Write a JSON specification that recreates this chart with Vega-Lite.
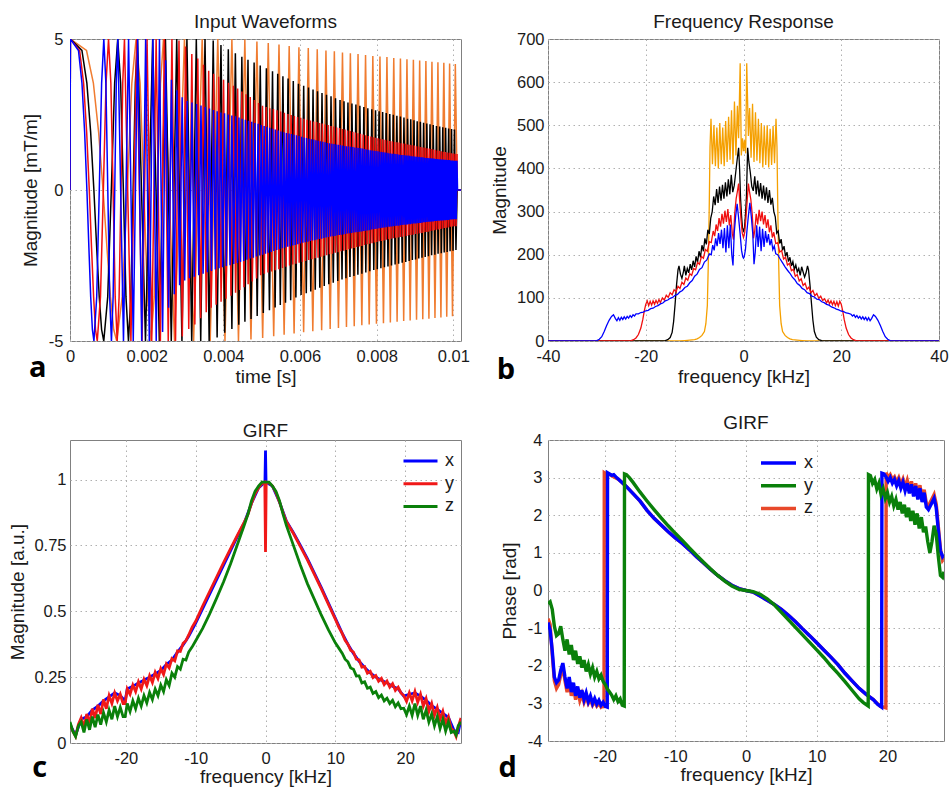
{
"$schema":"https://vega.github.io/schema/vega-lite/v6.json",
"padding":{"left":8,"top":12,"right":0,"bottom":0},
"background":"white",
"config":{
"font":"Liberation Sans",
"view":{"stroke":"#808080","strokeWidth":1},
"axis":{"labelFontSize":16.5,"labelColor":"#1a1a1a","titleFontSize":19,"titleFontWeight":"normal","titleColor":"#1a1a1a","domain":false,"ticks":false,"grid":true,"gridColor":"#b0b0b0","gridDash":[1.5,3.5],"labelFlush":false,"labelOverlap":false},
"title":{"fontSize":19,"fontWeight":"normal","color":"#1a1a1a","offset":-1,"frame":"group"}
},
"datasets":{
"aO":[{"t":0,"v":0},{"t":0.00001,"v":5},{"t":0.000431,"v":4.62},{"t":0.00061,"v":3.54},{"t":0.000747,"v":1.91},{"t":0.000862,"v":0},{"t":0.000964,"v":-1.91},{"t":0.001056,"v":-3.54},{"t":0.00114,"v":-4.62},{"t":0.001219,"v":-5},{"t":0.001363,"v":-3.54},{"t":0.001493,"v":0},{"t":0.001613,"v":3.54},{"t":0.001724,"v":5},{"t":0.001829,"v":3.54},{"t":0.001927,"v":0},{"t":0.002022,"v":-3.54},{"t":0.002111,"v":-5},{"t":0.002198,"v":-3.54},{"t":0.002281,"v":0},{"t":0.002361,"v":3.54},{"t":0.002438,"v":5},{"t":0.002586,"v":0},{"t":0.002726,"v":-5},{"t":0.002859,"v":0},{"t":0.002986,"v":5},{"t":0.003225,"v":-5},{"t":0.003448,"v":5},{"t":0.003657,"v":-5},{"t":0.003855,"v":5},{"t":0.004043,"v":-5},{"t":0.004223,"v":5},{"t":0.004395,"v":-5},{"t":0.004561,"v":4.98},{"t":0.004721,"v":-4.95},{"t":0.004876,"v":4.92},{"t":0.005026,"v":-4.9},{"t":0.005172,"v":4.87},{"t":0.005314,"v":-4.84},{"t":0.005452,"v":4.82},{"t":0.005586,"v":-4.79},{"t":0.005718,"v":4.77},{"t":0.005846,"v":-4.75},{"t":0.005972,"v":4.73},{"t":0.006095,"v":-4.71},{"t":0.006216,"v":4.7},{"t":0.006334,"v":-4.68},{"t":0.00645,"v":4.66},{"t":0.006565,"v":-4.64},{"t":0.006677,"v":4.62},{"t":0.006787,"v":-4.6},{"t":0.006896,"v":4.59},{"t":0.007003,"v":-4.57},{"t":0.007108,"v":4.55},{"t":0.007212,"v":-4.54},{"t":0.007314,"v":4.53},{"t":0.007415,"v":-4.51},{"t":0.007514,"v":4.5},{"t":0.007613,"v":-4.48},{"t":0.00771,"v":4.47},{"t":0.007805,"v":-4.45},{"t":0.0079,"v":4.44},{"t":0.007994,"v":-4.43},{"t":0.008086,"v":4.42},{"t":0.008177,"v":-4.41},{"t":0.008268,"v":4.4},{"t":0.008357,"v":-4.39},{"t":0.008446,"v":4.37},{"t":0.008533,"v":-4.36},{"t":0.00862,"v":4.35},{"t":0.008705,"v":-4.34},{"t":0.00879,"v":4.33},{"t":0.008874,"v":-4.32},{"t":0.008958,"v":4.31},{"t":0.00904,"v":-4.3},{"t":0.009122,"v":4.29},{"t":0.009203,"v":-4.28},{"t":0.009284,"v":4.27},{"t":0.009363,"v":-4.26},{"t":0.009442,"v":4.25},{"t":0.009521,"v":-4.24},{"t":0.009598,"v":4.23},{"t":0.009676,"v":-4.22},{"t":0.009752,"v":4.21},{"t":0.009828,"v":-4.2},{"t":0.009903,"v":4.19},{"t":0.009978,"v":-4.18},{"t":0.010052,"v":4.17},{"t":0.0101,"v":0},{"t":0.0102,"v":0}],
"aK":[{"t":0,"v":0},{"t":0.00001,"v":5},{"t":0.000311,"v":4.62},{"t":0.00044,"v":3.54},{"t":0.000539,"v":1.91},{"t":0.000623,"v":0},{"t":0.000696,"v":-1.91},{"t":0.000763,"v":-3.54},{"t":0.000824,"v":-4.62},{"t":0.000881,"v":-5},{"t":0.000984,"v":-3.54},{"t":0.001078,"v":0},{"t":0.001165,"v":3.54},{"t":0.001245,"v":5},{"t":0.001321,"v":3.54},{"t":0.001392,"v":0},{"t":0.00146,"v":-3.54},{"t":0.001525,"v":-5},{"t":0.001587,"v":-3.54},{"t":0.001647,"v":0},{"t":0.001705,"v":3.54},{"t":0.001761,"v":5},{"t":0.001969,"v":-5},{"t":0.002157,"v":5},{"t":0.00233,"v":-5},{"t":0.00249,"v":5},{"t":0.002642,"v":-5},{"t":0.002784,"v":5},{"t":0.00292,"v":-5},{"t":0.00305,"v":5},{"t":0.003175,"v":-5},{"t":0.003295,"v":5},{"t":0.00341,"v":-5},{"t":0.003522,"v":5},{"t":0.00363,"v":-5},{"t":0.003736,"v":4.95},{"t":0.003838,"v":-4.88},{"t":0.003938,"v":4.8},{"t":0.004035,"v":-4.73},{"t":0.00413,"v":4.66},{"t":0.004223,"v":-4.6},{"t":0.004314,"v":4.53},{"t":0.004403,"v":-4.46},{"t":0.004483,"v":4.41},{"t":0.004563,"v":-4.36},{"t":0.004643,"v":4.31},{"t":0.004723,"v":-4.27},{"t":0.004803,"v":4.22},{"t":0.004883,"v":-4.17},{"t":0.004963,"v":4.12},{"t":0.005043,"v":-4.07},{"t":0.005123,"v":4.03},{"t":0.005203,"v":-3.98},{"t":0.005283,"v":3.93},{"t":0.005351,"v":-3.89},{"t":0.005419,"v":3.85},{"t":0.005486,"v":-3.81},{"t":0.005554,"v":3.77},{"t":0.005622,"v":-3.73},{"t":0.005689,"v":3.69},{"t":0.005757,"v":-3.65},{"t":0.005825,"v":3.61},{"t":0.005893,"v":-3.56},{"t":0.00596,"v":3.52},{"t":0.006028,"v":-3.48},{"t":0.006096,"v":3.45},{"t":0.006164,"v":-3.42},{"t":0.006222,"v":3.39},{"t":0.006281,"v":-3.36},{"t":0.00634,"v":3.33},{"t":0.006398,"v":-3.3},{"t":0.006457,"v":3.27},{"t":0.006516,"v":-3.24},{"t":0.006574,"v":3.21},{"t":0.006633,"v":-3.18},{"t":0.006692,"v":3.15},{"t":0.006751,"v":-3.12},{"t":0.006809,"v":3.1},{"t":0.006868,"v":-3.07},{"t":0.006927,"v":3.04},{"t":0.006985,"v":-3.01},{"t":0.007044,"v":2.98},{"t":0.007096,"v":-2.96},{"t":0.007148,"v":2.94},{"t":0.007199,"v":-2.92},{"t":0.007251,"v":2.9},{"t":0.007303,"v":-2.88},{"t":0.007355,"v":2.86},{"t":0.007407,"v":-2.85},{"t":0.007458,"v":2.83},{"t":0.00751,"v":-2.81},{"t":0.007562,"v":2.79},{"t":0.007614,"v":-2.77},{"t":0.007666,"v":2.75},{"t":0.007717,"v":-2.73},{"t":0.007769,"v":2.71},{"t":0.007821,"v":-2.69},{"t":0.007873,"v":2.67},{"t":0.007925,"v":-2.65},{"t":0.007971,"v":2.64},{"t":0.008017,"v":-2.62},{"t":0.008064,"v":2.61},{"t":0.00811,"v":-2.59},{"t":0.008156,"v":2.58},{"t":0.008203,"v":-2.56},{"t":0.008249,"v":2.55},{"t":0.008295,"v":-2.53},{"t":0.008342,"v":2.52},{"t":0.008388,"v":-2.5},{"t":0.008434,"v":2.49},{"t":0.008481,"v":-2.47},{"t":0.008527,"v":2.46},{"t":0.008573,"v":-2.44},{"t":0.00862,"v":2.43},{"t":0.008666,"v":-2.41},{"t":0.008712,"v":2.4},{"t":0.008759,"v":-2.38},{"t":0.008805,"v":2.36},{"t":0.008847,"v":-2.35},{"t":0.008889,"v":2.34},{"t":0.008931,"v":-2.32},{"t":0.008973,"v":2.31},{"t":0.009015,"v":-2.3},{"t":0.009057,"v":2.28},{"t":0.009099,"v":-2.27},{"t":0.00914,"v":2.26},{"t":0.009182,"v":-2.24},{"t":0.009224,"v":2.23},{"t":0.009266,"v":-2.22},{"t":0.009308,"v":2.2},{"t":0.00935,"v":-2.19},{"t":0.009392,"v":2.18},{"t":0.009434,"v":-2.16},{"t":0.009476,"v":2.15},{"t":0.009518,"v":-2.14},{"t":0.00956,"v":2.12},{"t":0.009602,"v":-2.11},{"t":0.009644,"v":2.1},{"t":0.009686,"v":-2.09},{"t":0.009724,"v":2.08},{"t":0.009762,"v":-2.07},{"t":0.0098,"v":2.06},{"t":0.009839,"v":-2.05},{"t":0.009877,"v":2.04},{"t":0.009915,"v":-2.03},{"t":0.009954,"v":2.02},{"t":0.009992,"v":-2.01},{"t":0.01003,"v":2.0},{"t":0.010068,"v":-1.99},{"t":0.0101,"v":0},{"t":0.0102,"v":0}],
"aR":[{"t":0,"v":0},{"t":0.00001,"v":5},{"t":0.000251,"v":4.62},{"t":0.000355,"v":3.54},{"t":0.000435,"v":1.91},{"t":0.000503,"v":0},{"t":0.000562,"v":-1.91},{"t":0.000616,"v":-3.54},{"t":0.000665,"v":-4.62},{"t":0.000711,"v":-5},{"t":0.000795,"v":-3.54},{"t":0.00087,"v":0},{"t":0.00094,"v":3.54},{"t":0.001005,"v":5},{"t":0.001066,"v":3.54},{"t":0.001124,"v":0},{"t":0.001179,"v":-3.54},{"t":0.001231,"v":-5},{"t":0.001281,"v":-3.54},{"t":0.00133,"v":0},{"t":0.001376,"v":3.54},{"t":0.001421,"v":5},{"t":0.001589,"v":-5},{"t":0.001741,"v":5},{"t":0.00188,"v":-5},{"t":0.00201,"v":5},{"t":0.002132,"v":-5},{"t":0.002247,"v":5},{"t":0.002357,"v":-5},{"t":0.002462,"v":5},{"t":0.002563,"v":-5},{"t":0.002659,"v":5},{"t":0.002753,"v":-5},{"t":0.002843,"v":4.95},{"t":0.00293,"v":-4.85},{"t":0.003015,"v":4.75},{"t":0.003098,"v":-4.6},{"t":0.003178,"v":4.5},{"t":0.003257,"v":-4.45},{"t":0.003334,"v":4.35},{"t":0.003408,"v":-4.25},{"t":0.003482,"v":4.15},{"t":0.003554,"v":-4.05},{"t":0.003618,"v":3.95},{"t":0.003683,"v":-3.9},{"t":0.003747,"v":3.85},{"t":0.003812,"v":-3.8},{"t":0.003877,"v":3.75},{"t":0.003941,"v":-3.7},{"t":0.004006,"v":3.65},{"t":0.00407,"v":-3.6},{"t":0.004135,"v":3.55},{"t":0.0042,"v":-3.5},{"t":0.004264,"v":3.45},{"t":0.004319,"v":-3.4},{"t":0.004374,"v":3.36},{"t":0.004428,"v":-3.31},{"t":0.004483,"v":3.26},{"t":0.004538,"v":-3.22},{"t":0.004592,"v":3.17},{"t":0.004647,"v":-3.12},{"t":0.004702,"v":3.08},{"t":0.004756,"v":-3.03},{"t":0.004811,"v":2.98},{"t":0.004866,"v":-2.93},{"t":0.00492,"v":2.88},{"t":0.004975,"v":-2.82},{"t":0.005022,"v":2.79},{"t":0.00507,"v":-2.77},{"t":0.005117,"v":2.75},{"t":0.005165,"v":-2.73},{"t":0.005212,"v":2.71},{"t":0.005259,"v":-2.7},{"t":0.005307,"v":2.68},{"t":0.005354,"v":-2.66},{"t":0.005401,"v":2.64},{"t":0.005449,"v":-2.62},{"t":0.005496,"v":2.6},{"t":0.005544,"v":-2.58},{"t":0.005591,"v":2.56},{"t":0.005638,"v":-2.54},{"t":0.005686,"v":2.52},{"t":0.005727,"v":-2.5},{"t":0.005769,"v":2.48},{"t":0.005811,"v":-2.47},{"t":0.005853,"v":2.45},{"t":0.005895,"v":-2.44},{"t":0.005936,"v":2.42},{"t":0.005978,"v":-2.41},{"t":0.00602,"v":2.39},{"t":0.006062,"v":-2.38},{"t":0.006104,"v":2.36},{"t":0.006145,"v":-2.35},{"t":0.006187,"v":2.33},{"t":0.006229,"v":-2.32},{"t":0.006271,"v":2.3},{"t":0.006313,"v":-2.29},{"t":0.006354,"v":2.27},{"t":0.006396,"v":-2.26},{"t":0.006434,"v":2.25},{"t":0.006471,"v":-2.24},{"t":0.006509,"v":2.22},{"t":0.006546,"v":-2.21},{"t":0.006583,"v":2.2},{"t":0.006621,"v":-2.18},{"t":0.006658,"v":2.17},{"t":0.006696,"v":-2.16},{"t":0.006733,"v":2.15},{"t":0.00677,"v":-2.13},{"t":0.006808,"v":2.12},{"t":0.006845,"v":-2.11},{"t":0.006883,"v":2.1},{"t":0.00692,"v":-2.08},{"t":0.006957,"v":2.07},{"t":0.006995,"v":-2.06},{"t":0.007032,"v":2.05},{"t":0.00707,"v":-2.03},{"t":0.007107,"v":2.02},{"t":0.007141,"v":-2.01},{"t":0.007175,"v":2.0},{"t":0.007209,"v":-1.99},{"t":0.007242,"v":1.97},{"t":0.007276,"v":-1.96},{"t":0.00731,"v":1.95},{"t":0.007344,"v":-1.94},{"t":0.007378,"v":1.93},{"t":0.007412,"v":-1.92},{"t":0.007446,"v":1.9},{"t":0.007479,"v":-1.89},{"t":0.007513,"v":1.88},{"t":0.007547,"v":-1.87},{"t":0.007581,"v":1.86},{"t":0.007615,"v":-1.85},{"t":0.007649,"v":1.84},{"t":0.007682,"v":-1.82},{"t":0.007716,"v":1.81},{"t":0.00775,"v":-1.8},{"t":0.007784,"v":1.79},{"t":0.007818,"v":-1.78},{"t":0.007849,"v":1.77},{"t":0.00788,"v":-1.76},{"t":0.00791,"v":1.75},{"t":0.007941,"v":-1.74},{"t":0.007972,"v":1.73},{"t":0.008003,"v":-1.72},{"t":0.008034,"v":1.71},{"t":0.008065,"v":-1.7},{"t":0.008096,"v":1.7},{"t":0.008127,"v":-1.69},{"t":0.008158,"v":1.68},{"t":0.008189,"v":-1.67},{"t":0.008219,"v":1.66},{"t":0.00825,"v":-1.65},{"t":0.008281,"v":1.64},{"t":0.008312,"v":-1.63},{"t":0.008343,"v":1.62},{"t":0.008374,"v":-1.61},{"t":0.008405,"v":1.61},{"t":0.008436,"v":-1.6},{"t":0.008467,"v":1.59},{"t":0.008498,"v":-1.58},{"t":0.008528,"v":1.58},{"t":0.0085568,"v":-1.57},{"t":0.0085852,"v":1.57},{"t":0.0086137,"v":-1.56},{"t":0.0086421,"v":1.55},{"t":0.0086705,"v":-1.55},{"t":0.008699,"v":1.54},{"t":0.0087274,"v":-1.53},{"t":0.0087558,"v":1.53},{"t":0.0087843,"v":-1.52},{"t":0.0088127,"v":1.51},{"t":0.0088411,"v":-1.5},{"t":0.0088696,"v":1.5},{"t":0.008898,"v":-1.49},{"t":0.0089264,"v":1.48},{"t":0.0089549,"v":-1.48},{"t":0.0089833,"v":1.47},{"t":0.0090117,"v":-1.46},{"t":0.0090402,"v":1.45},{"t":0.0090686,"v":-1.45},{"t":0.009097,"v":1.44},{"t":0.0091255,"v":-1.43},{"t":0.0091539,"v":1.42},{"t":0.0091823,"v":-1.42},{"t":0.0092108,"v":1.41},{"t":0.0092391,"v":-1.4},{"t":0.0092654,"v":1.4},{"t":0.0092917,"v":-1.39},{"t":0.0093181,"v":1.38},{"t":0.0093444,"v":-1.38},{"t":0.0093707,"v":1.37},{"t":0.009397,"v":-1.36},{"t":0.0094233,"v":1.36},{"t":0.0094497,"v":-1.35},{"t":0.009476,"v":1.34},{"t":0.0095023,"v":-1.33},{"t":0.0095286,"v":1.33},{"t":0.009555,"v":-1.32},{"t":0.0095813,"v":1.31},{"t":0.0096076,"v":-1.31},{"t":0.0096339,"v":1.3},{"t":0.0096602,"v":-1.29},{"t":0.0096866,"v":1.28},{"t":0.0097129,"v":-1.28},{"t":0.0097392,"v":1.27},{"t":0.0097655,"v":-1.26},{"t":0.0097918,"v":1.26},{"t":0.0098182,"v":-1.25},{"t":0.0098445,"v":1.24},{"t":0.0098708,"v":-1.24},{"t":0.0098971,"v":1.23},{"t":0.0099234,"v":-1.22},{"t":0.0099498,"v":1.22},{"t":0.0099743,"v":-1.21},{"t":0.0099988,"v":1.21},{"t":0.0100233,"v":-1.2},{"t":0.0100478,"v":1.2},{"t":0.0100723,"v":-1.2},{"t":0.0100968,"v":1.19},{"t":0.0101,"v":0},{"t":0.0102,"v":0}],
"aB":[{"t":0,"v":0},{"t":0.00001,"v":5},{"t":0.000221,"v":4.62},{"t":0.000312,"v":3.54},{"t":0.000382,"v":1.91},{"t":0.000441,"v":0},{"t":0.000493,"v":-1.91},{"t":0.00054,"v":-3.54},{"t":0.000584,"v":-4.62},{"t":0.000624,"v":-5},{"t":0.000697,"v":-3.54},{"t":0.000764,"v":0},{"t":0.000825,"v":3.54},{"t":0.000882,"v":5},{"t":0.000936,"v":3.54},{"t":0.000986,"v":0},{"t":0.001035,"v":-3.54},{"t":0.001081,"v":-5},{"t":0.001125,"v":-3.54},{"t":0.001167,"v":0},{"t":0.001208,"v":3.54},{"t":0.001248,"v":5},{"t":0.001395,"v":-5},{"t":0.001528,"v":5},{"t":0.00165,"v":-5},{"t":0.001764,"v":5},{"t":0.001871,"v":-5},{"t":0.001973,"v":5},{"t":0.002069,"v":-5},{"t":0.002161,"v":5},{"t":0.002249,"v":-5},{"t":0.002334,"v":5},{"t":0.002416,"v":-4.7},{"t":0.002495,"v":4.3},{"t":0.002572,"v":-3.9},{"t":0.002647,"v":3.65},{"t":0.002719,"v":-3.45},{"t":0.00279,"v":3.3},{"t":0.002859,"v":-3.15},{"t":0.002926,"v":3.07},{"t":0.002992,"v":-3.0},{"t":0.003056,"v":2.95},{"t":0.003119,"v":-2.92},{"t":0.003181,"v":2.9},{"t":0.003241,"v":-2.87},{"t":0.003301,"v":2.85},{"t":0.003359,"v":-2.82},{"t":0.003417,"v":2.8},{"t":0.003473,"v":-2.77},{"t":0.003529,"v":2.75},{"t":0.003584,"v":-2.72},{"t":0.003637,"v":2.7},{"t":0.003691,"v":-2.68},{"t":0.003743,"v":2.65},{"t":0.003791,"v":-2.63},{"t":0.003839,"v":2.61},{"t":0.003887,"v":-2.59},{"t":0.003935,"v":2.57},{"t":0.003983,"v":-2.56},{"t":0.004031,"v":2.54},{"t":0.004079,"v":-2.52},{"t":0.004127,"v":2.5},{"t":0.004175,"v":-2.49},{"t":0.004223,"v":2.47},{"t":0.004271,"v":-2.45},{"t":0.004319,"v":2.44},{"t":0.004367,"v":-2.42},{"t":0.004408,"v":2.4},{"t":0.00445,"v":-2.38},{"t":0.004491,"v":2.36},{"t":0.004533,"v":-2.35},{"t":0.004575,"v":2.33},{"t":0.004616,"v":-2.31},{"t":0.004658,"v":2.29},{"t":0.004699,"v":-2.27},{"t":0.004741,"v":2.26},{"t":0.004783,"v":-2.24},{"t":0.004824,"v":2.22},{"t":0.004866,"v":-2.2},{"t":0.004907,"v":2.19},{"t":0.004949,"v":-2.17},{"t":0.00499,"v":2.15},{"t":0.005027,"v":-2.14},{"t":0.005064,"v":2.12},{"t":0.005101,"v":-2.11},{"t":0.005137,"v":2.09},{"t":0.005174,"v":-2.08},{"t":0.005211,"v":2.06},{"t":0.005247,"v":-2.05},{"t":0.005284,"v":2.03},{"t":0.005321,"v":-2.02},{"t":0.005357,"v":2.0},{"t":0.005394,"v":-1.99},{"t":0.005431,"v":1.97},{"t":0.005468,"v":-1.96},{"t":0.005504,"v":1.94},{"t":0.005541,"v":-1.93},{"t":0.005578,"v":1.91},{"t":0.005614,"v":-1.9},{"t":0.005647,"v":1.89},{"t":0.00568,"v":-1.88},{"t":0.005713,"v":1.87},{"t":0.005746,"v":-1.86},{"t":0.005778,"v":1.85},{"t":0.005811,"v":-1.84},{"t":0.005844,"v":1.83},{"t":0.005877,"v":-1.82},{"t":0.00591,"v":1.81},{"t":0.005943,"v":-1.8},{"t":0.005975,"v":1.79},{"t":0.006008,"v":-1.77},{"t":0.006041,"v":1.76},{"t":0.006074,"v":-1.75},{"t":0.006107,"v":1.74},{"t":0.00614,"v":-1.73},{"t":0.006172,"v":1.72},{"t":0.006205,"v":-1.71},{"t":0.006238,"v":1.7},{"t":0.006268,"v":-1.69},{"t":0.006297,"v":1.68},{"t":0.006327,"v":-1.67},{"t":0.006357,"v":1.67},{"t":0.006387,"v":-1.66},{"t":0.006416,"v":1.65},{"t":0.006446,"v":-1.64},{"t":0.006476,"v":1.63},{"t":0.006505,"v":-1.62},{"t":0.006535,"v":1.61},{"t":0.006565,"v":-1.61},{"t":0.006594,"v":1.6},{"t":0.006624,"v":-1.59},{"t":0.006654,"v":1.58},{"t":0.006684,"v":-1.57},{"t":0.006713,"v":1.56},{"t":0.006743,"v":-1.56},{"t":0.006773,"v":1.55},{"t":0.006802,"v":-1.54},{"t":0.006832,"v":1.53},{"t":0.006862,"v":-1.53},{"t":0.006889,"v":1.52},{"t":0.006916,"v":-1.52},{"t":0.006943,"v":1.51},{"t":0.00697,"v":-1.5},{"t":0.006997,"v":1.5},{"t":0.007025,"v":-1.49},{"t":0.007052,"v":1.49},{"t":0.007079,"v":-1.48},{"t":0.007106,"v":1.47},{"t":0.007133,"v":-1.47},{"t":0.00716,"v":1.46},{"t":0.007187,"v":-1.46},{"t":0.007214,"v":1.45},{"t":0.007242,"v":-1.44},{"t":0.007269,"v":1.44},{"t":0.007296,"v":-1.43},{"t":0.007323,"v":1.43},{"t":0.00735,"v":-1.42},{"t":0.007377,"v":1.42},{"t":0.007404,"v":-1.41},{"t":0.007431,"v":1.41},{"t":0.007458,"v":-1.4},{"t":0.007486,"v":1.4},{"t":0.0075105,"v":-1.39},{"t":0.0075355,"v":1.39},{"t":0.0075604,"v":-1.38},{"t":0.0075854,"v":1.38},{"t":0.0076103,"v":-1.37},{"t":0.0076353,"v":1.37},{"t":0.0076602,"v":-1.36},{"t":0.0076852,"v":1.36},{"t":0.0077101,"v":-1.35},{"t":0.0077351,"v":1.34},{"t":0.00776,"v":-1.34},{"t":0.007785,"v":1.33},{"t":0.0078099,"v":-1.33},{"t":0.0078349,"v":1.32},{"t":0.0078598,"v":-1.31},{"t":0.0078848,"v":1.31},{"t":0.0079097,"v":-1.3},{"t":0.0079347,"v":1.3},{"t":0.0079596,"v":-1.29},{"t":0.0079846,"v":1.29},{"t":0.0080095,"v":-1.28},{"t":0.0080345,"v":1.28},{"t":0.0080594,"v":-1.27},{"t":0.0080844,"v":1.27},{"t":0.0081094,"v":-1.26},{"t":0.0081325,"v":1.26},{"t":0.0081556,"v":-1.25},{"t":0.0081787,"v":1.25},{"t":0.0082018,"v":-1.24},{"t":0.0082249,"v":1.24},{"t":0.008248,"v":-1.23},{"t":0.0082711,"v":1.23},{"t":0.0082942,"v":-1.22},{"t":0.0083173,"v":1.22},{"t":0.0083404,"v":-1.22},{"t":0.0083635,"v":1.21},{"t":0.0083866,"v":-1.21},{"t":0.0084097,"v":1.2},{"t":0.0084328,"v":-1.2},{"t":0.0084559,"v":1.2},{"t":0.008479,"v":-1.19},{"t":0.0085021,"v":1.19},{"t":0.0085252,"v":-1.18},{"t":0.0085483,"v":1.18},{"t":0.0085714,"v":-1.18},{"t":0.0085945,"v":1.17},{"t":0.0086176,"v":-1.17},{"t":0.0086407,"v":1.16},{"t":0.0086638,"v":-1.16},{"t":0.0086869,"v":1.16},{"t":0.00871,"v":-1.15},{"t":0.0087332,"v":1.15},{"t":0.0087547,"v":-1.15},{"t":0.0087762,"v":1.14},{"t":0.0087977,"v":-1.14},{"t":0.0088192,"v":1.14},{"t":0.0088407,"v":-1.13},{"t":0.0088622,"v":1.13},{"t":0.0088837,"v":-1.13},{"t":0.0089052,"v":1.12},{"t":0.0089267,"v":-1.12},{"t":0.0089482,"v":1.12},{"t":0.0089697,"v":-1.11},{"t":0.0089912,"v":1.11},{"t":0.0090127,"v":-1.11},{"t":0.0090342,"v":1.1},{"t":0.0090557,"v":-1.1},{"t":0.0090772,"v":1.1},{"t":0.0090987,"v":-1.09},{"t":0.0091202,"v":1.09},{"t":0.0091417,"v":-1.09},{"t":0.0091632,"v":1.08},{"t":0.0091847,"v":-1.08},{"t":0.0092062,"v":1.08},{"t":0.0092277,"v":-1.07},{"t":0.0092492,"v":1.07},{"t":0.0092707,"v":-1.07},{"t":0.0092922,"v":1.06},{"t":0.0093137,"v":-1.06},{"t":0.0093352,"v":1.06},{"t":0.009357,"v":-1.05},{"t":0.0093771,"v":1.05},{"t":0.0093972,"v":-1.05},{"t":0.0094173,"v":1.05},{"t":0.0094374,"v":-1.04},{"t":0.0094575,"v":1.04},{"t":0.0094776,"v":-1.04},{"t":0.0094977,"v":1.04},{"t":0.0095178,"v":-1.03},{"t":0.0095379,"v":1.03},{"t":0.009558,"v":-1.03},{"t":0.0095781,"v":1.03},{"t":0.0095982,"v":-1.02},{"t":0.0096183,"v":1.02},{"t":0.0096384,"v":-1.02},{"t":0.0096585,"v":1.02},{"t":0.0096786,"v":-1.01},{"t":0.0096987,"v":1.01},{"t":0.0097188,"v":-1.01},{"t":0.0097389,"v":1.01},{"t":0.009759,"v":-1.0},{"t":0.0097791,"v":1.0},{"t":0.0097992,"v":-1.0},{"t":0.0098193,"v":1.0},{"t":0.0098394,"v":-0.99},{"t":0.0098595,"v":0.99},{"t":0.0098796,"v":-0.99},{"t":0.0098997,"v":0.99},{"t":0.0099198,"v":-0.98},{"t":0.0099399,"v":0.98},{"t":0.00996,"v":-0.98},{"t":0.0099808,"v":0.98},{"t":0.0099997,"v":-0.97},{"t":0.0100186,"v":0.97},{"t":0.0100375,"v":-0.97},{"t":0.0100564,"v":0.97},{"t":0.0100753,"v":-0.97},{"t":0.0100942,"v":0.97},{"t":0.01011,"v":0},{"t":0.0102,"v":0}],
"bO":[{"f":-40,"v":0},{"f":-13,"v":0},{"f":-12,"v":1},{"f":-11,"v":2},{"f":-10,"v":3},{"f":-9.5,"v":5},{"f":-9,"v":8},{"f":-8.5,"v":13},{"f":-8,"v":22},{"f":-7.7,"v":40},{"f":-7.4,"v":82},{"f":-7.2,"v":180},{"f":-7,"v":320},{"f":-6.85,"v":450},{"f":-6.65,"v":515},{"f":-6.35,"v":410},{"f":-6.05,"v":500},{"f":-5.75,"v":405},{"f":-5.45,"v":495},{"f":-5.15,"v":400},{"f":-4.85,"v":505},{"f":-4.55,"v":410},{"f":-4.25,"v":495},{"f":-3.95,"v":405},{"f":-3.65,"v":510},{"f":-3.35,"v":415},{"f":-3.05,"v":520},{"f":-2.75,"v":420},{"f":-2.45,"v":535},{"f":-2.15,"v":410},{"f":-1.85,"v":555},{"f":-1.55,"v":430},{"f":-1.25,"v":545},{"f":-1,"v":470},{"f":-0.68,"v":644},{"f":-0.45,"v":430},{"f":-0.2,"v":470},{"f":0,"v":440},{"f":0.2,"v":465},{"f":0.45,"v":435},{"f":0.66,"v":644},{"f":1,"v":475},{"f":1.25,"v":540},{"f":1.55,"v":425},{"f":1.85,"v":550},{"f":2.15,"v":415},{"f":2.45,"v":530},{"f":2.75,"v":418},{"f":3.05,"v":515},{"f":3.35,"v":412},{"f":3.65,"v":505},{"f":3.95,"v":402},{"f":4.25,"v":498},{"f":4.55,"v":408},{"f":4.85,"v":500},{"f":5.15,"v":402},{"f":5.45,"v":492},{"f":5.75,"v":408},{"f":6.05,"v":498},{"f":6.35,"v":412},{"f":6.65,"v":515},{"f":6.85,"v":450},{"f":7,"v":320},{"f":7.2,"v":180},{"f":7.4,"v":82},{"f":7.7,"v":40},{"f":8,"v":22},{"f":8.5,"v":13},{"f":9,"v":8},{"f":9.5,"v":5},{"f":10,"v":3},{"f":11,"v":2},{"f":12,"v":1},{"f":13,"v":0},{"f":40,"v":0}],
"bK":[{"f":-40,"v":0},{"f":-16.5,"v":0},{"f":-16,"v":1},{"f":-15.5,"v":3},{"f":-15,"v":8},{"f":-14.6,"v":20},{"f":-14.3,"v":45},{"f":-14,"v":85},{"f":-13.7,"v":130},{"f":-13.4,"v":165},{"f":-13.2,"v":174},{"f":-12.9,"v":155},{"f":-12.6,"v":145},{"f":-12.3,"v":160},{"f":-12.1,"v":174},{"f":-11.8,"v":152},{"f":-11.5,"v":168},{"f":-11.2,"v":158},{"f":-10.9,"v":178},{"f":-10.6,"v":165},{"f":-10.3,"v":186},{"f":-10,"v":172},{"f":-9.7,"v":196},{"f":-9.4,"v":182},{"f":-9.1,"v":208},{"f":-8.8,"v":194},{"f":-8.5,"v":222},{"f":-8.2,"v":208},{"f":-7.9,"v":238},{"f":-7.6,"v":224},{"f":-7.3,"v":258},{"f":-7,"v":248},{"f":-6.7,"v":285},{"f":-6.4,"v":300},{"f":-6.1,"v":335},{"f":-5.8,"v":315},{"f":-5.5,"v":352},{"f":-5.2,"v":320},{"f":-4.9,"v":358},{"f":-4.6,"v":325},{"f":-4.3,"v":362},{"f":-4,"v":330},{"f":-3.7,"v":368},{"f":-3.4,"v":335},{"f":-3.1,"v":375},{"f":-2.8,"v":340},{"f":-2.5,"v":385},{"f":-2.2,"v":345},{"f":-1.9,"v":360},{"f":-1.6,"v":390},{"f":-1.3,"v":420},{"f":-1,"v":448},{"f":-0.8,"v":400},{"f":-0.6,"v":330},{"f":-0.4,"v":290},{"f":-0.2,"v":262},{"f":0,"v":255},{"f":0.2,"v":262},{"f":0.4,"v":292},{"f":0.6,"v":335},{"f":0.85,"v":448},{"f":1.1,"v":415},{"f":1.4,"v":390},{"f":1.7,"v":358},{"f":2,"v":348},{"f":2.3,"v":382},{"f":2.6,"v":340},{"f":2.9,"v":372},{"f":3.2,"v":335},{"f":3.5,"v":366},{"f":3.8,"v":330},{"f":4.1,"v":360},{"f":4.4,"v":326},{"f":4.7,"v":356},{"f":5,"v":320},{"f":5.3,"v":350},{"f":5.6,"v":316},{"f":5.9,"v":332},{"f":6.2,"v":300},{"f":6.5,"v":288},{"f":6.8,"v":250},{"f":7.1,"v":255},{"f":7.4,"v":226},{"f":7.7,"v":236},{"f":8,"v":210},{"f":8.3,"v":220},{"f":8.6,"v":196},{"f":8.9,"v":206},{"f":9.2,"v":184},{"f":9.5,"v":194},{"f":9.8,"v":174},{"f":10.1,"v":184},{"f":10.4,"v":166},{"f":10.7,"v":176},{"f":11,"v":160},{"f":11.3,"v":168},{"f":11.6,"v":152},{"f":11.9,"v":172},{"f":12.2,"v":160},{"f":12.5,"v":148},{"f":12.8,"v":158},{"f":13.1,"v":174},{"f":13.3,"v":165},{"f":13.6,"v":130},{"f":13.9,"v":88},{"f":14.2,"v":48},{"f":14.5,"v":22},{"f":14.9,"v":9},{"f":15.4,"v":3},{"f":16,"v":1},{"f":16.5,"v":0},{"f":40,"v":0}],
"bR":[{"f":-40,"v":0},{"f":-24,"v":0},{"f":-23,"v":1},{"f":-22.5,"v":3},{"f":-22,"v":7},{"f":-21.5,"v":15},{"f":-21,"v":30},{"f":-20.6,"v":50},{"f":-20.3,"v":70},{"f":-20,"v":85},{"f":-19.7,"v":93},{"f":-19.4,"v":82},{"f":-19.1,"v":92},{"f":-18.8,"v":83},{"f":-18.5,"v":93},{"f":-18.2,"v":85},{"f":-17.9,"v":94},{"f":-17.6,"v":87},{"f":-17.3,"v":96},{"f":-17,"v":89},{"f":-16.6,"v":100},{"f":-16.2,"v":95},{"f":-15.8,"v":106},{"f":-15.4,"v":101},{"f":-15,"v":112},{"f":-14.6,"v":107},{"f":-14.2,"v":119},{"f":-13.8,"v":114},{"f":-13.4,"v":127},{"f":-13,"v":122},{"f":-12.6,"v":136},{"f":-12.2,"v":131},{"f":-11.8,"v":146},{"f":-11.4,"v":141},{"f":-11,"v":156},{"f":-10.6,"v":152},{"f":-10.2,"v":168},{"f":-9.8,"v":165},{"f":-9.4,"v":182},{"f":-9,"v":178},{"f":-8.6,"v":196},{"f":-8.2,"v":192},{"f":-7.8,"v":212},{"f":-7.4,"v":208},{"f":-7,"v":230},{"f":-6.6,"v":228},{"f":-6.2,"v":255},{"f":-5.9,"v":243},{"f":-5.6,"v":270},{"f":-5.3,"v":255},{"f":-5,"v":285},{"f":-4.7,"v":265},{"f":-4.4,"v":295},{"f":-4.1,"v":272},{"f":-3.8,"v":302},{"f":-3.5,"v":276},{"f":-3.2,"v":306},{"f":-2.9,"v":268},{"f":-2.6,"v":292},{"f":-2.3,"v":250},{"f":-2.05,"v":235},{"f":-1.8,"v":295},{"f":-1.5,"v":330},{"f":-1.2,"v":350},{"f":-1,"v":365},{"f":-0.75,"v":320},{"f":-0.5,"v":280},{"f":-0.25,"v":250},{"f":0,"v":240},{"f":0.25,"v":252},{"f":0.5,"v":285},{"f":0.75,"v":325},{"f":1,"v":365},{"f":1.2,"v":348},{"f":1.5,"v":328},{"f":1.8,"v":292},{"f":2.05,"v":238},{"f":2.3,"v":255},{"f":2.6,"v":295},{"f":2.9,"v":270},{"f":3.2,"v":304},{"f":3.5,"v":278},{"f":3.8,"v":300},{"f":4.1,"v":270},{"f":4.4,"v":292},{"f":4.7,"v":262},{"f":5,"v":282},{"f":5.3,"v":252},{"f":5.6,"v":268},{"f":5.9,"v":240},{"f":6.2,"v":252},{"f":6.6,"v":226},{"f":7,"v":228},{"f":7.4,"v":206},{"f":7.8,"v":210},{"f":8.2,"v":190},{"f":8.6,"v":194},{"f":9,"v":176},{"f":9.4,"v":180},{"f":9.8,"v":163},{"f":10.2,"v":166},{"f":10.6,"v":150},{"f":11,"v":154},{"f":11.4,"v":139},{"f":11.8,"v":144},{"f":12.2,"v":129},{"f":12.6,"v":134},{"f":13,"v":120},{"f":13.4,"v":125},{"f":13.8,"v":112},{"f":14.2,"v":117},{"f":14.6,"v":105},{"f":15,"v":110},{"f":15.4,"v":99},{"f":15.8,"v":104},{"f":16.2,"v":94},{"f":16.6,"v":98},{"f":17,"v":88},{"f":17.3,"v":95},{"f":17.6,"v":86},{"f":17.9,"v":93},{"f":18.2,"v":84},{"f":18.5,"v":92},{"f":18.8,"v":82},{"f":19.1,"v":91},{"f":19.4,"v":81},{"f":19.7,"v":92},{"f":20,"v":85},{"f":20.3,"v":70},{"f":20.6,"v":50},{"f":21,"v":30},{"f":21.5,"v":15},{"f":22,"v":7},{"f":22.5,"v":3},{"f":23,"v":1},{"f":24,"v":0},{"f":40,"v":0}],
"bB":[{"f":-40,"v":0},{"f":-31,"v":0},{"f":-30,"v":1},{"f":-29.5,"v":4},{"f":-29,"v":10},{"f":-28.5,"v":22},{"f":-28,"v":36},{"f":-27.5,"v":48},{"f":-27,"v":57},{"f":-26.6,"v":61},{"f":-26.2,"v":52},{"f":-25.9,"v":47},{"f":-25.6,"v":54},{"f":-25.3,"v":48},{"f":-25,"v":55},{"f":-24.7,"v":50},{"f":-24.4,"v":56},{"f":-24.1,"v":51},{"f":-23.8,"v":57},{"f":-23.5,"v":53},{"f":-23.2,"v":59},{"f":-22.9,"v":55},{"f":-22.6,"v":61},{"f":-22.3,"v":58},{"f":-22,"v":63},{"f":-21.5,"v":63},{"f":-21,"v":66},{"f":-20.5,"v":67},{"f":-20,"v":70},{"f":-19.5,"v":71},{"f":-19,"v":75},{"f":-18.5,"v":76},{"f":-18,"v":80},{"f":-17.5,"v":82},{"f":-17,"v":86},{"f":-16.5,"v":88},{"f":-16,"v":93},{"f":-15.5,"v":95},{"f":-15,"v":99},{"f":-14.5,"v":101},{"f":-14,"v":106},{"f":-13.5,"v":108},{"f":-13,"v":114},{"f":-12.5,"v":117},{"f":-12,"v":124},{"f":-11.5,"v":127},{"f":-11,"v":135},{"f":-10.5,"v":140},{"f":-10,"v":150},{"f":-9.5,"v":155},{"f":-9,"v":166},{"f":-8.5,"v":170},{"f":-8,"v":183},{"f":-7.5,"v":188},{"f":-7,"v":202},{"f":-6.6,"v":200},{"f":-6.3,"v":222},{"f":-6,"v":210},{"f":-5.7,"v":238},{"f":-5.4,"v":220},{"f":-5.1,"v":250},{"f":-4.8,"v":225},{"f":-4.5,"v":258},{"f":-4.2,"v":215},{"f":-3.9,"v":262},{"f":-3.6,"v":205},{"f":-3.3,"v":268},{"f":-3,"v":215},{"f":-2.7,"v":270},{"f":-2.4,"v":200},{"f":-2.15,"v":175},{"f":-1.9,"v":250},{"f":-1.6,"v":290},{"f":-1.3,"v":318},{"f":-1,"v":285},{"f":-0.7,"v":250},{"f":-0.4,"v":210},{"f":-0.15,"v":195},{"f":0,"v":192},{"f":0.15,"v":195},{"f":0.4,"v":212},{"f":0.7,"v":255},{"f":1,"v":290},{"f":1.3,"v":320},{"f":1.6,"v":288},{"f":1.9,"v":248},{"f":2.15,"v":178},{"f":2.4,"v":205},{"f":2.7,"v":268},{"f":3,"v":218},{"f":3.3,"v":265},{"f":3.6,"v":208},{"f":3.9,"v":260},{"f":4.2,"v":218},{"f":4.5,"v":255},{"f":4.8,"v":228},{"f":5.1,"v":248},{"f":5.4,"v":222},{"f":5.7,"v":236},{"f":6,"v":212},{"f":6.3,"v":220},{"f":6.6,"v":202},{"f":7,"v":200},{"f":7.5,"v":190},{"f":8,"v":181},{"f":8.5,"v":172},{"f":9,"v":164},{"f":9.5,"v":157},{"f":10,"v":148},{"f":10.5,"v":142},{"f":11,"v":133},{"f":11.5,"v":129},{"f":12,"v":122},{"f":12.5,"v":119},{"f":13,"v":112},{"f":13.5,"v":110},{"f":14,"v":104},{"f":14.5,"v":102},{"f":15,"v":97},{"f":15.5,"v":96},{"f":16,"v":91},{"f":16.5,"v":89},{"f":17,"v":85},{"f":17.5,"v":83},{"f":18,"v":79},{"f":18.5,"v":77},{"f":19,"v":74},{"f":19.5,"v":72},{"f":20,"v":69},{"f":20.5,"v":68},{"f":21,"v":65},{"f":21.5,"v":64},{"f":22,"v":62},{"f":22.3,"v":58},{"f":22.6,"v":61},{"f":22.9,"v":55},{"f":23.2,"v":59},{"f":23.5,"v":53},{"f":23.8,"v":57},{"f":24.1,"v":51},{"f":24.4,"v":56},{"f":24.7,"v":50},{"f":25,"v":55},{"f":25.3,"v":48},{"f":25.6,"v":54},{"f":25.9,"v":47},{"f":26.2,"v":52},{"f":26.6,"v":61},{"f":27,"v":57},{"f":27.5,"v":48},{"f":28,"v":36},{"f":28.5,"v":22},{"f":29,"v":10},{"f":29.5,"v":4},{"f":30,"v":1},{"f":31,"v":0},{"f":40,"v":0}],
"cG":[{"s":"x","f":-28,"v":0.07},{"s":"x","f":-27.2,"v":0.03},{"s":"x","f":-26.4,"v":0.09},{"s":"x","f":-25.6,"v":0.1},{"s":"x","f":-24.8,"v":0.125},{"s":"x","f":-24,"v":0.14},{"s":"x","f":-23.2,"v":0.16},{"s":"x","f":-22.4,"v":0.175},{"s":"x","f":-21.6,"v":0.19},{"s":"x","f":-20.8,"v":0.18},{"s":"x","f":-20.1,"v":0.16},{"s":"x","f":-19.8,"v":0.205},{"s":"x","f":-19,"v":0.215},{"s":"x","f":-18.2,"v":0.228},{"s":"x","f":-17.4,"v":0.238},{"s":"x","f":-16.6,"v":0.25},{"s":"x","f":-15.8,"v":0.262},{"s":"x","f":-15,"v":0.275},{"s":"x","f":-14.2,"v":0.298},{"s":"x","f":-13.4,"v":0.315},{"s":"x","f":-12.6,"v":0.345},{"s":"x","f":-11.8,"v":0.372},{"s":"x","f":-11,"v":0.405},{"s":"x","f":-10,"v":0.455},{"s":"x","f":-9,"v":0.51},{"s":"x","f":-8,"v":0.565},{"s":"x","f":-7,"v":0.62},{"s":"x","f":-6,"v":0.675},{"s":"x","f":-5,"v":0.73},{"s":"x","f":-4,"v":0.785},{"s":"x","f":-3,"v":0.838},{"s":"x","f":-2,"v":0.91},{"s":"x","f":-1,"v":0.968},{"s":"x","f":-0.08,"v":0.99},{"s":"x","f":0,"v":1.11},{"s":"x","f":0.08,"v":0.99},{"s":"x","f":1,"v":0.975},{"s":"x","f":2,"v":0.915},{"s":"x","f":3,"v":0.842},{"s":"x","f":4,"v":0.798},{"s":"x","f":5,"v":0.75},{"s":"x","f":6,"v":0.7},{"s":"x","f":7,"v":0.645},{"s":"x","f":8,"v":0.59},{"s":"x","f":9,"v":0.532},{"s":"x","f":10,"v":0.474},{"s":"x","f":11,"v":0.416},{"s":"x","f":11.8,"v":0.375},{"s":"x","f":12.6,"v":0.34},{"s":"x","f":13.4,"v":0.31},{"s":"x","f":14.2,"v":0.287},{"s":"x","f":15,"v":0.266},{"s":"x","f":15.8,"v":0.25},{"s":"x","f":16.6,"v":0.238},{"s":"x","f":17.4,"v":0.228},{"s":"x","f":18.2,"v":0.215},{"s":"x","f":19,"v":0.205},{"s":"x","f":19.8,"v":0.178},{"s":"x","f":20.6,"v":0.185},{"s":"x","f":21.4,"v":0.19},{"s":"x","f":22.2,"v":0.178},{"s":"x","f":23,"v":0.162},{"s":"x","f":23.8,"v":0.142},{"s":"x","f":24.6,"v":0.128},{"s":"x","f":25.4,"v":0.112},{"s":"x","f":26.2,"v":0.097},{"s":"x","f":27,"v":0.048},{"s":"x","f":27.6,"v":0.04},{"s":"x","f":28,"v":0.09},
{"s":"y","f":-28,"v":0.075},{"s":"y","f":-27.6,"v":0.045},{"s":"y","f":-27.2,"v":0.025},{"s":"y","f":-26.8,"v":0.07},{"s":"y","f":-26.4,"v":0.095},{"s":"y","f":-26,"v":0.06},{"s":"y","f":-25.6,"v":0.11},{"s":"y","f":-25.2,"v":0.075},{"s":"y","f":-24.8,"v":0.13},{"s":"y","f":-24.4,"v":0.095},{"s":"y","f":-24,"v":0.145},{"s":"y","f":-23.6,"v":0.11},{"s":"y","f":-23.2,"v":0.165},{"s":"y","f":-22.8,"v":0.13},{"s":"y","f":-22.4,"v":0.18},{"s":"y","f":-22,"v":0.15},{"s":"y","f":-21.6,"v":0.19},{"s":"y","f":-21.2,"v":0.16},{"s":"y","f":-20.8,"v":0.185},{"s":"y","f":-20.4,"v":0.15},{"s":"y","f":-20.1,"v":0.15},{"s":"y","f":-19.8,"v":0.205},{"s":"y","f":-19.4,"v":0.185},{"s":"y","f":-19,"v":0.22},{"s":"y","f":-18.6,"v":0.195},{"s":"y","f":-18.2,"v":0.232},{"s":"y","f":-17.8,"v":0.205},{"s":"y","f":-17.4,"v":0.242},{"s":"y","f":-17,"v":0.218},{"s":"y","f":-16.6,"v":0.255},{"s":"y","f":-16.2,"v":0.23},{"s":"y","f":-15.8,"v":0.268},{"s":"y","f":-15.4,"v":0.245},{"s":"y","f":-15,"v":0.282},{"s":"y","f":-14.6,"v":0.26},{"s":"y","f":-14.2,"v":0.3},{"s":"y","f":-13.8,"v":0.285},{"s":"y","f":-13.4,"v":0.32},{"s":"y","f":-13,"v":0.312},{"s":"y","f":-12.6,"v":0.35},{"s":"y","f":-12.2,"v":0.348},{"s":"y","f":-11.8,"v":0.378},{"s":"y","f":-11.4,"v":0.388},{"s":"y","f":-11,"v":0.41},{"s":"y","f":-10.5,"v":0.44},{"s":"y","f":-10,"v":0.462},{"s":"y","f":-9,"v":0.52},{"s":"y","f":-8,"v":0.575},{"s":"y","f":-7,"v":0.63},{"s":"y","f":-6,"v":0.685},{"s":"y","f":-5,"v":0.738},{"s":"y","f":-4,"v":0.79},{"s":"y","f":-3,"v":0.84},{"s":"y","f":-2.5,"v":0.868},{"s":"y","f":-2,"v":0.91},{"s":"y","f":-1.5,"v":0.945},{"s":"y","f":-1,"v":0.968},{"s":"y","f":-0.5,"v":0.985},{"s":"y","f":-0.1,"v":0.99},{"s":"y","f":0,"v":0.725},{"s":"y","f":0.1,"v":0.99},{"s":"y","f":0.5,"v":0.988},{"s":"y","f":1,"v":0.975},{"s":"y","f":1.5,"v":0.95},{"s":"y","f":2,"v":0.915},{"s":"y","f":2.5,"v":0.875},{"s":"y","f":3,"v":0.84},{"s":"y","f":4,"v":0.795},{"s":"y","f":5,"v":0.745},{"s":"y","f":6,"v":0.695},{"s":"y","f":7,"v":0.64},{"s":"y","f":8,"v":0.585},{"s":"y","f":9,"v":0.527},{"s":"y","f":10,"v":0.47},{"s":"y","f":10.5,"v":0.44},{"s":"y","f":11,"v":0.415},{"s":"y","f":11.4,"v":0.39},{"s":"y","f":11.8,"v":0.375},{"s":"y","f":12.2,"v":0.352},{"s":"y","f":12.6,"v":0.345},{"s":"y","f":13,"v":0.318},{"s":"y","f":13.4,"v":0.315},{"s":"y","f":13.8,"v":0.288},{"s":"y","f":14.2,"v":0.29},{"s":"y","f":14.6,"v":0.265},{"s":"y","f":15,"v":0.272},{"s":"y","f":15.4,"v":0.248},{"s":"y","f":15.8,"v":0.256},{"s":"y","f":16.2,"v":0.235},{"s":"y","f":16.6,"v":0.245},{"s":"y","f":17,"v":0.222},{"s":"y","f":17.4,"v":0.235},{"s":"y","f":17.8,"v":0.212},{"s":"y","f":18.2,"v":0.225},{"s":"y","f":18.6,"v":0.2},{"s":"y","f":19,"v":0.212},{"s":"y","f":19.4,"v":0.19},{"s":"y","f":19.8,"v":0.18},{"s":"y","f":20.2,"v":0.158},{"s":"y","f":20.6,"v":0.19},{"s":"y","f":21,"v":0.16},{"s":"y","f":21.4,"v":0.195},{"s":"y","f":21.8,"v":0.155},{"s":"y","f":22.2,"v":0.185},{"s":"y","f":22.6,"v":0.14},{"s":"y","f":23,"v":0.168},{"s":"y","f":23.4,"v":0.12},{"s":"y","f":23.8,"v":0.15},{"s":"y","f":24.2,"v":0.105},{"s":"y","f":24.6,"v":0.135},{"s":"y","f":25,"v":0.09},{"s":"y","f":25.4,"v":0.12},{"s":"y","f":25.8,"v":0.075},{"s":"y","f":26.2,"v":0.1},{"s":"y","f":26.6,"v":0.055},{"s":"y","f":27,"v":0.045},{"s":"y","f":27.3,"v":0.025},{"s":"y","f":27.6,"v":0.06},{"s":"y","f":28,"v":0.095},
{"s":"z","f":-28,"v":0.08},{"s":"z","f":-27.6,"v":0.045},{"s":"z","f":-27.2,"v":0.025},{"s":"z","f":-26.8,"v":0.065},{"s":"z","f":-26.4,"v":0.08},{"s":"z","f":-26,"v":0.04},{"s":"z","f":-25.6,"v":0.09},{"s":"z","f":-25.2,"v":0.05},{"s":"z","f":-24.8,"v":0.1},{"s":"z","f":-24.4,"v":0.06},{"s":"z","f":-24,"v":0.108},{"s":"z","f":-23.6,"v":0.07},{"s":"z","f":-23.2,"v":0.115},{"s":"z","f":-22.8,"v":0.08},{"s":"z","f":-22.4,"v":0.125},{"s":"z","f":-22,"v":0.09},{"s":"z","f":-21.6,"v":0.14},{"s":"z","f":-21.2,"v":0.1},{"s":"z","f":-20.8,"v":0.135},{"s":"z","f":-20.4,"v":0.1},{"s":"z","f":-20.1,"v":0.1},{"s":"z","f":-19.8,"v":0.15},{"s":"z","f":-19.4,"v":0.12},{"s":"z","f":-19,"v":0.16},{"s":"z","f":-18.6,"v":0.13},{"s":"z","f":-18.2,"v":0.17},{"s":"z","f":-17.8,"v":0.14},{"s":"z","f":-17.4,"v":0.18},{"s":"z","f":-17,"v":0.152},{"s":"z","f":-16.6,"v":0.192},{"s":"z","f":-16.2,"v":0.165},{"s":"z","f":-15.8,"v":0.205},{"s":"z","f":-15.4,"v":0.18},{"s":"z","f":-15,"v":0.22},{"s":"z","f":-14.6,"v":0.195},{"s":"z","f":-14.2,"v":0.24},{"s":"z","f":-13.8,"v":0.218},{"s":"z","f":-13.4,"v":0.265},{"s":"z","f":-13,"v":0.25},{"s":"z","f":-12.6,"v":0.29},{"s":"z","f":-12.2,"v":0.28},{"s":"z","f":-11.8,"v":0.318},{"s":"z","f":-11.4,"v":0.315},{"s":"z","f":-11,"v":0.345},{"s":"z","f":-10.5,"v":0.365},{"s":"z","f":-10,"v":0.388},{"s":"z","f":-9,"v":0.435},{"s":"z","f":-8,"v":0.49},{"s":"z","f":-7,"v":0.55},{"s":"z","f":-6,"v":0.612},{"s":"z","f":-5,"v":0.68},{"s":"z","f":-4,"v":0.755},{"s":"z","f":-3,"v":0.83},{"s":"z","f":-2.5,"v":0.87},{"s":"z","f":-2,"v":0.92},{"s":"z","f":-1.5,"v":0.955},{"s":"z","f":-1,"v":0.975},{"s":"z","f":-0.5,"v":0.99},{"s":"z","f":0,"v":0.99},{"s":"z","f":0.5,"v":0.99},{"s":"z","f":1,"v":0.975},{"s":"z","f":1.5,"v":0.955},{"s":"z","f":2,"v":0.92},{"s":"z","f":2.5,"v":0.87},{"s":"z","f":3,"v":0.825},{"s":"z","f":4,"v":0.75},{"s":"z","f":5,"v":0.675},{"s":"z","f":6,"v":0.605},{"s":"z","f":7,"v":0.545},{"s":"z","f":8,"v":0.485},{"s":"z","f":9,"v":0.43},{"s":"z","f":10,"v":0.38},{"s":"z","f":10.5,"v":0.36},{"s":"z","f":11,"v":0.34},{"s":"z","f":11.4,"v":0.318},{"s":"z","f":11.8,"v":0.308},{"s":"z","f":12.2,"v":0.285},{"s":"z","f":12.6,"v":0.28},{"s":"z","f":13,"v":0.255},{"s":"z","f":13.4,"v":0.255},{"s":"z","f":13.8,"v":0.228},{"s":"z","f":14.2,"v":0.232},{"s":"z","f":14.6,"v":0.208},{"s":"z","f":15,"v":0.212},{"s":"z","f":15.4,"v":0.188},{"s":"z","f":15.8,"v":0.195},{"s":"z","f":16.2,"v":0.172},{"s":"z","f":16.6,"v":0.182},{"s":"z","f":17,"v":0.16},{"s":"z","f":17.4,"v":0.17},{"s":"z","f":17.8,"v":0.15},{"s":"z","f":18.2,"v":0.162},{"s":"z","f":18.6,"v":0.138},{"s":"z","f":19,"v":0.152},{"s":"z","f":19.4,"v":0.13},{"s":"z","f":19.8,"v":0.132},{"s":"z","f":20.2,"v":0.108},{"s":"z","f":20.6,"v":0.14},{"s":"z","f":21,"v":0.105},{"s":"z","f":21.4,"v":0.15},{"s":"z","f":21.8,"v":0.105},{"s":"z","f":22.2,"v":0.14},{"s":"z","f":22.6,"v":0.09},{"s":"z","f":23,"v":0.125},{"s":"z","f":23.4,"v":0.08},{"s":"z","f":23.8,"v":0.11},{"s":"z","f":24.2,"v":0.065},{"s":"z","f":24.6,"v":0.1},{"s":"z","f":25,"v":0.055},{"s":"z","f":25.4,"v":0.09},{"s":"z","f":25.8,"v":0.045},{"s":"z","f":26.2,"v":0.08},{"s":"z","f":26.6,"v":0.04},{"s":"z","f":27,"v":0.045},{"s":"z","f":27.3,"v":0.03},{"s":"z","f":27.6,"v":0.065},{"s":"z","f":28,"v":0.08}],
"dP":[{"s":"z","f":-28,"v":-0.75},{"s":"z","f":-27.7,"v":-0.9},{"s":"z","f":-27.4,"v":-1.7},{"s":"z","f":-27.1,"v":-2.4},{"s":"z","f":-26.8,"v":-2.6},{"s":"z","f":-26.5,"v":-2.5},{"s":"z","f":-26.2,"v":-2.25},{"s":"z","f":-25.9,"v":-2.05},{"s":"z","f":-25.6,"v":-2.4},{"s":"z","f":-25.3,"v":-2.7},{"s":"z","f":-25,"v":-2.4},{"s":"z","f":-24.7,"v":-2.8},{"s":"z","f":-24.4,"v":-2.55},{"s":"z","f":-24.1,"v":-2.9},{"s":"z","f":-23.8,"v":-2.65},{"s":"z","f":-23.5,"v":-2.92},{"s":"z","f":-23.2,"v":-2.75},{"s":"z","f":-22.9,"v":-2.97},{"s":"z","f":-22.6,"v":-2.82},{"s":"z","f":-22.3,"v":-3.0},{"s":"z","f":-22,"v":-2.9},{"s":"z","f":-21.7,"v":-3.05},{"s":"z","f":-21.4,"v":-2.95},{"s":"z","f":-21.1,"v":-3.07},{"s":"z","f":-20.8,"v":-3.0},{"s":"z","f":-20.5,"v":-3.1},{"s":"z","f":-20.2,"v":-3.05},{"s":"z","f":-20.08,"v":-3.12},{"s":"z","f":-20.04,"v":3.13},{"s":"z","f":-19.8,"v":3.1},{"s":"z","f":-19.4,"v":3.1},{"s":"z","f":-19,"v":3.05},{"s":"z","f":-18,"v":2.95},{"s":"z","f":-17,"v":2.78},{"s":"z","f":-16,"v":2.58},{"s":"z","f":-15,"v":2.38},{"s":"z","f":-14,"v":2.13},{"s":"z","f":-13,"v":1.92},{"s":"z","f":-12,"v":1.74},{"s":"z","f":-11,"v":1.56},{"s":"z","f":-10,"v":1.4},{"s":"z","f":-9,"v":1.25},{"s":"z","f":-8,"v":1.08},{"s":"z","f":-7,"v":0.9},{"s":"z","f":-6,"v":0.73},{"s":"z","f":-5,"v":0.56},{"s":"z","f":-4,"v":0.4},{"s":"z","f":-3,"v":0.26},{"s":"z","f":-2,"v":0.14},{"s":"z","f":-1,"v":0.05},{"s":"z","f":0,"v":0},{"s":"z","f":1,"v":-0.04},{"s":"z","f":2,"v":-0.15},{"s":"z","f":3,"v":-0.26},{"s":"z","f":4,"v":-0.37},{"s":"z","f":5,"v":-0.5},{"s":"z","f":6,"v":-0.66},{"s":"z","f":7,"v":-0.83},{"s":"z","f":8,"v":-1.02},{"s":"z","f":9,"v":-1.2},{"s":"z","f":10,"v":-1.39},{"s":"z","f":11,"v":-1.58},{"s":"z","f":12,"v":-1.77},{"s":"z","f":13,"v":-1.97},{"s":"z","f":14,"v":-2.2},{"s":"z","f":15,"v":-2.4},{"s":"z","f":16,"v":-2.6},{"s":"z","f":17,"v":-2.76},{"s":"z","f":18,"v":-2.9},{"s":"z","f":19,"v":-3.08},{"s":"z","f":19.5,"v":-3.1},{"s":"z","f":19.78,"v":-3.12},{"s":"z","f":19.82,"v":3.13},{"s":"z","f":20.1,"v":3.0},{"s":"z","f":20.4,"v":3.08},{"s":"z","f":20.7,"v":2.95},{"s":"z","f":21,"v":3.02},{"s":"z","f":21.3,"v":2.88},{"s":"z","f":21.6,"v":3.0},{"s":"z","f":21.9,"v":2.82},{"s":"z","f":22.2,"v":2.96},{"s":"z","f":22.5,"v":2.75},{"s":"z","f":22.8,"v":2.93},{"s":"z","f":23.1,"v":2.68},{"s":"z","f":23.4,"v":2.9},{"s":"z","f":23.7,"v":2.6},{"s":"z","f":24,"v":2.85},{"s":"z","f":24.3,"v":2.52},{"s":"z","f":24.6,"v":2.8},{"s":"z","f":24.9,"v":2.45},{"s":"z","f":25.2,"v":2.68},{"s":"z","f":25.5,"v":2.32},{"s":"z","f":25.8,"v":2.25},{"s":"z","f":26.2,"v":2.4},{"s":"z","f":26.6,"v":2.55},{"s":"z","f":26.9,"v":2.3},{"s":"z","f":27.2,"v":1.7},{"s":"z","f":27.5,"v":1.1},{"s":"z","f":27.8,"v":0.8},{"s":"z","f":28,"v":0.85},
{"s":"x","f":-28,"v":-0.85},{"s":"x","f":-27.7,"v":-1.05},{"s":"x","f":-27.4,"v":-1.6},{"s":"x","f":-27.1,"v":-2.3},{"s":"x","f":-26.8,"v":-2.45},{"s":"x","f":-26.5,"v":-2.38},{"s":"x","f":-26.2,"v":-2.12},{"s":"x","f":-25.9,"v":-1.93},{"s":"x","f":-25.6,"v":-2.3},{"s":"x","f":-25.3,"v":-2.6},{"s":"x","f":-25,"v":-2.3},{"s":"x","f":-24.7,"v":-2.7},{"s":"x","f":-24.4,"v":-2.45},{"s":"x","f":-24.1,"v":-2.8},{"s":"x","f":-23.8,"v":-2.55},{"s":"x","f":-23.5,"v":-2.85},{"s":"x","f":-23.2,"v":-2.65},{"s":"x","f":-22.9,"v":-2.9},{"s":"x","f":-22.6,"v":-2.72},{"s":"x","f":-22.3,"v":-2.95},{"s":"x","f":-22,"v":-2.8},{"s":"x","f":-21.7,"v":-3.0},{"s":"x","f":-21.4,"v":-2.87},{"s":"x","f":-21.1,"v":-3.02},{"s":"x","f":-20.8,"v":-2.92},{"s":"x","f":-20.5,"v":-3.05},{"s":"x","f":-20.2,"v":-2.97},{"s":"x","f":-19.9,"v":-3.08},{"s":"x","f":-19.62,"v":-3.1},{"s":"x","f":-19.58,"v":3.13},{"s":"x","f":-19.3,"v":3.1},{"s":"x","f":-19,"v":3.06},{"s":"x","f":-18.7,"v":3.08},{"s":"x","f":-18.4,"v":3.02},{"s":"x","f":-18,"v":2.95},{"s":"x","f":-17,"v":2.78},{"s":"x","f":-16,"v":2.58},{"s":"x","f":-15,"v":2.38},{"s":"x","f":-14,"v":2.13},{"s":"x","f":-13,"v":1.92},{"s":"x","f":-12,"v":1.74},{"s":"x","f":-11,"v":1.56},{"s":"x","f":-10,"v":1.4},{"s":"x","f":-9,"v":1.25},{"s":"x","f":-8,"v":1.08},{"s":"x","f":-7,"v":0.9},{"s":"x","f":-6,"v":0.73},{"s":"x","f":-5,"v":0.56},{"s":"x","f":-4,"v":0.4},{"s":"x","f":-3,"v":0.26},{"s":"x","f":-2,"v":0.14},{"s":"x","f":-1,"v":0.05},{"s":"x","f":0,"v":0},{"s":"x","f":1,"v":-0.04},{"s":"x","f":2,"v":-0.15},{"s":"x","f":3,"v":-0.26},{"s":"x","f":4,"v":-0.37},{"s":"x","f":5,"v":-0.5},{"s":"x","f":6,"v":-0.66},{"s":"x","f":7,"v":-0.83},{"s":"x","f":8,"v":-1.02},{"s":"x","f":9,"v":-1.2},{"s":"x","f":10,"v":-1.39},{"s":"x","f":11,"v":-1.58},{"s":"x","f":12,"v":-1.77},{"s":"x","f":13,"v":-1.97},{"s":"x","f":14,"v":-2.2},{"s":"x","f":15,"v":-2.4},{"s":"x","f":16,"v":-2.6},{"s":"x","f":17,"v":-2.76},{"s":"x","f":18,"v":-2.9},{"s":"x","f":18.6,"v":-3.02},{"s":"x","f":19.18,"v":-3.1},{"s":"x","f":19.22,"v":3.12},{"s":"x","f":19.5,"v":3.1},{"s":"x","f":19.8,"v":3.02},{"s":"x","f":20.1,"v":2.9},{"s":"x","f":20.4,"v":3.0},{"s":"x","f":20.7,"v":2.85},{"s":"x","f":21,"v":2.95},{"s":"x","f":21.3,"v":2.78},{"s":"x","f":21.6,"v":2.92},{"s":"x","f":21.9,"v":2.72},{"s":"x","f":22.2,"v":2.88},{"s":"x","f":22.5,"v":2.65},{"s":"x","f":22.8,"v":2.85},{"s":"x","f":23.1,"v":2.58},{"s":"x","f":23.4,"v":2.82},{"s":"x","f":23.7,"v":2.5},{"s":"x","f":24,"v":2.78},{"s":"x","f":24.3,"v":2.42},{"s":"x","f":24.6,"v":2.72},{"s":"x","f":24.9,"v":2.35},{"s":"x","f":25.2,"v":2.6},{"s":"x","f":25.5,"v":2.22},{"s":"x","f":25.8,"v":2.15},{"s":"x","f":26.2,"v":2.3},{"s":"x","f":26.6,"v":2.45},{"s":"x","f":26.9,"v":2.2},{"s":"x","f":27.2,"v":1.6},{"s":"x","f":27.5,"v":1.05},{"s":"x","f":27.8,"v":0.9},{"s":"x","f":28,"v":0.95},
{"s":"y","f":-28,"v":-0.35},{"s":"y","f":-27.7,"v":-0.3},{"s":"y","f":-27.4,"v":-0.5},{"s":"y","f":-27.1,"v":-0.95},{"s":"y","f":-26.8,"v":-1.2},{"s":"y","f":-26.5,"v":-1.15},{"s":"y","f":-26.2,"v":-0.95},{"s":"y","f":-25.9,"v":-1.3},{"s":"y","f":-25.6,"v":-1.6},{"s":"y","f":-25.3,"v":-1.3},{"s":"y","f":-25,"v":-1.7},{"s":"y","f":-24.7,"v":-1.45},{"s":"y","f":-24.4,"v":-1.85},{"s":"y","f":-24.1,"v":-1.6},{"s":"y","f":-23.8,"v":-1.95},{"s":"y","f":-23.5,"v":-1.75},{"s":"y","f":-23.2,"v":-2.05},{"s":"y","f":-22.9,"v":-1.85},{"s":"y","f":-22.6,"v":-2.15},{"s":"y","f":-22.3,"v":-1.97},{"s":"y","f":-22,"v":-2.22},{"s":"y","f":-21.7,"v":-2.05},{"s":"y","f":-21.4,"v":-2.3},{"s":"y","f":-21.1,"v":-2.15},{"s":"y","f":-20.8,"v":-2.35},{"s":"y","f":-20.5,"v":-2.25},{"s":"y","f":-20.2,"v":-2.42},{"s":"y","f":-19.9,"v":-2.5},{"s":"y","f":-19.6,"v":-2.62},{"s":"y","f":-19.3,"v":-2.7},{"s":"y","f":-19,"v":-2.78},{"s":"y","f":-18.7,"v":-2.9},{"s":"y","f":-18.4,"v":-2.8},{"s":"y","f":-18.1,"v":-2.95},{"s":"y","f":-17.8,"v":-2.88},{"s":"y","f":-17.5,"v":-3.05},{"s":"y","f":-17.22,"v":-3.07},{"s":"y","f":-17.18,"v":3.1},{"s":"y","f":-16.9,"v":3.08},{"s":"y","f":-16.5,"v":3.0},{"s":"y","f":-16,"v":2.88},{"s":"y","f":-15,"v":2.62},{"s":"y","f":-14,"v":2.38},{"s":"y","f":-13,"v":2.15},{"s":"y","f":-12,"v":1.93},{"s":"y","f":-11,"v":1.72},{"s":"y","f":-10,"v":1.52},{"s":"y","f":-9,"v":1.33},{"s":"y","f":-8,"v":1.13},{"s":"y","f":-7,"v":0.94},{"s":"y","f":-6,"v":0.75},{"s":"y","f":-5,"v":0.57},{"s":"y","f":-4,"v":0.4},{"s":"y","f":-3,"v":0.25},{"s":"y","f":-2,"v":0.12},{"s":"y","f":-1,"v":0.03},{"s":"y","f":0,"v":0},{"s":"y","f":1,"v":-0.03},{"s":"y","f":2,"v":-0.1},{"s":"y","f":3,"v":-0.22},{"s":"y","f":4,"v":-0.38},{"s":"y","f":5,"v":-0.58},{"s":"y","f":6,"v":-0.78},{"s":"y","f":7,"v":-0.98},{"s":"y","f":8,"v":-1.18},{"s":"y","f":9,"v":-1.38},{"s":"y","f":10,"v":-1.58},{"s":"y","f":11,"v":-1.78},{"s":"y","f":12,"v":-2.0},{"s":"y","f":13,"v":-2.2},{"s":"y","f":14,"v":-2.42},{"s":"y","f":15,"v":-2.65},{"s":"y","f":16,"v":-2.88},{"s":"y","f":16.6,"v":-2.98},{"s":"y","f":17.28,"v":-3.07},{"s":"y","f":17.32,"v":3.08},{"s":"y","f":17.6,"v":3.05},{"s":"y","f":17.9,"v":2.85},{"s":"y","f":18.2,"v":2.95},{"s":"y","f":18.5,"v":2.7},{"s":"y","f":18.8,"v":2.85},{"s":"y","f":19.1,"v":2.55},{"s":"y","f":19.4,"v":2.7},{"s":"y","f":19.7,"v":2.45},{"s":"y","f":20,"v":2.6},{"s":"y","f":20.3,"v":2.35},{"s":"y","f":20.6,"v":2.5},{"s":"y","f":20.9,"v":2.25},{"s":"y","f":21.2,"v":2.42},{"s":"y","f":21.5,"v":2.15},{"s":"y","f":21.8,"v":2.35},{"s":"y","f":22.1,"v":2.05},{"s":"y","f":22.4,"v":2.28},{"s":"y","f":22.7,"v":1.95},{"s":"y","f":23,"v":2.2},{"s":"y","f":23.3,"v":1.85},{"s":"y","f":23.6,"v":2.12},{"s":"y","f":23.9,"v":1.75},{"s":"y","f":24.2,"v":2.05},{"s":"y","f":24.5,"v":1.65},{"s":"y","f":24.8,"v":1.95},{"s":"y","f":25.1,"v":1.55},{"s":"y","f":25.4,"v":1.7},{"s":"y","f":25.7,"v":1.3},{"s":"y","f":26,"v":1.0},{"s":"y","f":26.3,"v":1.3},{"s":"y","f":26.6,"v":1.72},{"s":"y","f":26.9,"v":1.5},{"s":"y","f":27.2,"v":0.9},{"s":"y","f":27.5,"v":0.4},{"s":"y","f":27.8,"v":0.35},{"s":"y","f":28,"v":0.5}]
},
"columns":2,
"spacing":{"row":99,"column":87},
"bounds":"flush",
"resolve":{"scale":{"color":"independent"},"legend":{"color":"independent"}},
"concat":[
{"width":391,"height":302,"title":{"text":"Input Waveforms"},
"encoding":{
"x":{"field":"t","type":"quantitative","scale":{"domain":[0,0.0102],"nice":false,"zero":false},"axis":{"values":[0,0.002,0.004,0.006,0.008,0.01],"format":".3~f","title":"time [s]","labelPadding":7,"titlePadding":3}},
"y":{"field":"v","type":"quantitative","scale":{"domain":[-5,5],"nice":false},"axis":{"values":[-5,0,5],"title":"Magnitude [mT/m]","labelExpr":"replace(datum.label,'−','-')","labelPadding":7,"titlePadding":8}}},
"layer":[
{"data":{"name":"aO"},"mark":{"type":"line","color":"#F07C30","strokeWidth":1.5,"clip":true}},
{"data":{"name":"aK"},"mark":{"type":"line","color":"#000000","strokeWidth":1.5,"clip":true}},
{"data":{"name":"aR"},"mark":{"type":"line","color":"#F01010","strokeWidth":1.5,"clip":true}},
{"data":{"name":"aB"},"mark":{"type":"line","color":"#0000FF","strokeWidth":1.5,"clip":true}},
{"data":{"values":[{"t":-0.00107,"v":-6.19,"label":"a"}]},"mark":{"type":"text","font":"Open Sans","fontWeight":"bold","fontSize":29,"align":"left","baseline":"alphabetic","clip":false},"encoding":{"text":{"field":"label"}}}
]},
{"width":391,"height":302,"title":{"text":"Frequency Response"},
"encoding":{
"x":{"field":"f","type":"quantitative","scale":{"domain":[-40,40],"nice":false},"axis":{"values":[-40,-20,0,20,40],"title":"frequency [kHz]","labelExpr":"replace(datum.label,'−','-')","labelPadding":7,"titlePadding":3}},
"y":{"field":"v","type":"quantitative","scale":{"domain":[0,700],"nice":false},"axis":{"values":[0,100,200,300,400,500,600,700],"title":"Magnitude","labelPadding":4,"titlePadding":7}}},
"layer":[
{"data":{"name":"bO"},"mark":{"type":"line","color":"#F5A000","strokeWidth":1.3,"clip":true}},
{"data":{"name":"bK"},"mark":{"type":"line","color":"#000000","strokeWidth":1.3,"clip":true}},
{"data":{"name":"bR"},"mark":{"type":"line","color":"#F01010","strokeWidth":1.3,"clip":true}},
{"data":{"name":"bB"},"mark":{"type":"line","color":"#0000FF","strokeWidth":1.3,"clip":true}},
{"data":{"values":[{"f":-50.5,"v":-88,"label":"b"}]},"mark":{"type":"text","font":"Open Sans","fontWeight":"bold","fontSize":29,"align":"left","baseline":"alphabetic","clip":false},"encoding":{"text":{"field":"label"}}}
]},
{"width":391,"height":303,"title":{"text":"GIRF"},
"encoding":{
"x":{"field":"f","type":"quantitative","scale":{"domain":[-28,28],"nice":false},"axis":{"values":[-20,-10,0,10,20],"title":"frequency [kHz]","labelExpr":"replace(datum.label,'−','-')","labelPadding":7,"titlePadding":1}},
"y":{"field":"v","type":"quantitative","scale":{"domain":[0,1.15],"nice":false},"axis":{"values":[0,0.25,0.5,0.75,1],"format":".2~f","title":"Magnitude [a.u.]","labelPadding":4,"titlePadding":6}}},
"layer":[
{"data":{"name":"cG"},"mark":{"type":"line","strokeWidth":2.8,"clip":true},
"encoding":{"color":{"field":"s","type":"nominal","scale":{"domain":["x","y","z"],"range":["#0000FF","#F01818","#0A800A"]},"legend":{"orient":"none","legendX":332,"legendY":12,"title":null,"symbolType":"stroke","symbolSize":1156,"symbolStrokeWidth":3,"labelFontSize":18,"labelOffset":6,"clipHeight":18,"rowPadding":4.7,"padding":0,"labelColor":"#1a1a1a"}}}},
{"data":{"values":[{"f":-33.4,"v":-0.129,"label":"c"}]},"mark":{"type":"text","font":"Open Sans","fontWeight":"bold","fontSize":29,"align":"left","baseline":"alphabetic","clip":false},"encoding":{"text":{"field":"label"}}}
]},
{"width":396,"height":301,"title":{"text":"GIRF"},
"encoding":{
"x":{"field":"f","type":"quantitative","scale":{"domain":[-28,28],"nice":false},"axis":{"values":[-20,-10,0,10,20],"title":"frequency [kHz]","labelExpr":"replace(datum.label,'−','-')","labelPadding":7,"titlePadding":1}},
"y":{"field":"v","type":"quantitative","scale":{"domain":[-4,4],"nice":false},"axis":{"values":[-4,-3,-2,-1,0,1,2,3,4],"title":"Phase [rad]","labelExpr":"replace(datum.label,'−','-')","labelPadding":6,"titlePadding":8}}},
"layer":[
{"data":{"name":"dP"},"mark":{"type":"line","strokeWidth":3.4,"clip":true},
"encoding":{"color":{"field":"s","type":"nominal","scale":{"domain":["x","y","z"],"range":["#0000FF","#0A800A","#E8482A"]},"legend":{"orient":"none","legendX":211,"legendY":14,"title":null,"symbolType":"stroke","symbolSize":1225,"symbolStrokeWidth":3.5,"labelFontSize":18,"labelOffset":6,"clipHeight":18,"rowPadding":4.7,"padding":0,"labelColor":"#1a1a1a"}}}},
{"data":{"values":[{"f":-35,"v":-4.97,"label":"d"}]},"mark":{"type":"text","font":"Open Sans","fontWeight":"bold","fontSize":29,"align":"left","baseline":"alphabetic","clip":false},"encoding":{"text":{"field":"label"}}}
]}
]
}
